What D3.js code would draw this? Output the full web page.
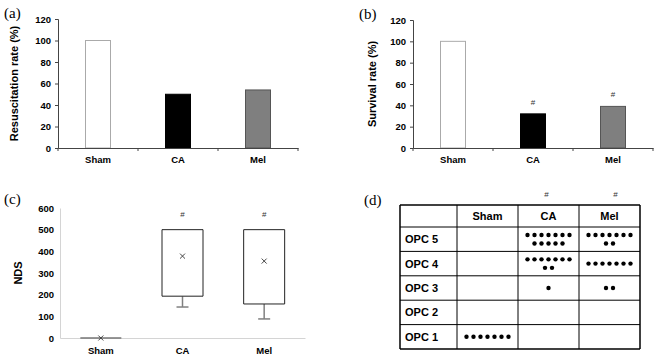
<!DOCTYPE html>
<html>
<head>
<meta charset="utf-8">
<script src="https://cdn.jsdelivr.net/npm/d3@7"></script>
<style>
  body { margin: 0; background: #fff; }
  svg { display: block; font-family: "Liberation Sans", Arial, sans-serif; }
  .tick text { font-family: "Liberation Sans", Arial, sans-serif; font-weight: bold; font-size: 9.5px; fill: #000; }
</style>
</head>
<body>
<svg id="chart" width="657" height="358"></svg>
<script>
// data
const groups = ["Sham", "CA", "Mel"];
const resuscitation = [100, 50, 54];
const survival = [100, 32, 39];
const survivalSig = [false, true, true];
const rateTicks = [0, 20, 40, 60, 80, 100, 120];

// NDS box plot (box = q1..q3, whisker down to min, x = mean)
const ndsQ1 = [0, 193, 157];
const ndsQ3 = [0, 500, 500];
const ndsMin = [0, 143, 88];
const ndsMean = [0, 378, 355];
const ndsSig = [false, true, true];
const ndsTicks = [0, 100, 200, 300, 400, 500, 600];

// OPC table (dot counts per level)
const opcLevels = ["OPC 5", "OPC 4", "OPC 3", "OPC 2", "OPC 1"];
const opcSham = [0, 0, 0, 0, 7];
const opcCA = [12, 9, 1, 0, 0];
const opcMel = [9, 7, 2, 0, 0];
const opcSig = [false, true, true];

const barFill = ["#fff", "#000", "#7f7f7f"];
const barStroke = ["#aaa", "#000", "#555"];

const svg = d3.select("#chart");

function panelLabel(txt, x, y) {
  svg.append("text")
    .attr("x", x).attr("y", y)
    .style("font-family", "'Liberation Serif', 'Times New Roman', serif")
    .style("font-size", "15px")
    .text(txt);
}

// bar panels (a) and (b)
function barPanel(opt) {
  const x = d3.scaleBand().domain(groups).range(opt.xr);
  const y = d3.scaleLinear().domain([0, 120]).range(opt.yr);
  const g = svg.append("g");
  const bw = 25;
  const idx = groups.map((d, i) => i);

  g.selectAll("rect.bar")
    .data(idx)
    .enter()
    .append("rect")
    .attr("class", "bar")
    .attr("x", i => x(groups[i]) + x.bandwidth() / 2 - bw / 2)
    .attr("y", i => y(opt.values[i]))
    .attr("width", bw)
    .attr("height", i => y(0) - y(opt.values[i]))
    .attr("fill", i => barFill[i])
    .attr("stroke", i => barStroke[i])
    .attr("stroke-width", 1);

  if (opt.sig) {
    g.selectAll("text.sig")
      .data(idx.filter(i => opt.sig[i]))
      .enter()
      .append("text")
      .attr("class", "sig")
      .attr("x", i => x(groups[i]) + x.bandwidth() / 2)
      .attr("y", i => y(opt.values[i]) - 9)
      .attr("text-anchor", "middle")
      .style("font-size", "8px")
      .style("fill", "#333")
      .text("#");
  }

  const yAxis = d3.axisLeft(y).tickValues(rateTicks).tickSize(3).tickPadding(4);
  const ya = g.append("g").attr("transform", "translate(" + opt.xr[0] + ",0)").call(yAxis);
  ya.select(".domain").attr("stroke", "#444");
  ya.selectAll(".tick line").attr("stroke", "#444");

  const xAxis = d3.axisBottom(x).tickSize(0).tickPadding(8);
  const xa = g.append("g").attr("transform", "translate(0," + opt.yr[0] + ")").call(xAxis);
  xa.select(".domain").attr("stroke", "#444");
  // separator ticks between categories
  xa.selectAll("line.sep")
    .data([0, 1, 2, 3])
    .enter()
    .append("line")
    .attr("class", "sep")
    .attr("x1", d => opt.xr[0] + d * x.step())
    .attr("x2", d => opt.xr[0] + d * x.step())
    .attr("y1", 0).attr("y2", 3)
    .attr("stroke", "#444");

  g.append("text")
    .attr("transform", "translate(" + opt.titleX + "," + ((opt.yr[0] + opt.yr[1]) / 2) + ") rotate(-90)")
    .attr("text-anchor", "middle")
    .style("font-weight", "bold")
    .style("font-size", "11px")
    .text(opt.title);
}

barPanel({ values: resuscitation, xr: [58, 298], yr: [148, 19], title: "Resuscitation rate (%)", titleX: 18 });
barPanel({ values: survival, sig: survivalSig, xr: [413, 653], yr: [148, 20], title: "Survival rate (%)", titleX: 376 });

panelLabel("(a)", 4, 18);
panelLabel("(b)", 359, 19);

// panel (c) box plot
(function () {
  const x = d3.scaleBand().domain(groups).range([60, 305]);
  const y = d3.scaleLinear().domain([0, 600]).range([338, 208]);
  const g = svg.append("g");
  const bw = 41;
  const idx = groups.map((d, i) => i);
  const cx = i => x(groups[i]) + x.bandwidth() / 2;

  const yAxis = d3.axisLeft(y).tickValues(ndsTicks).tickSize(0).tickPadding(6);
  const ya = g.append("g").attr("transform", "translate(60,0)").call(yAxis);
  ya.select(".domain").attr("stroke", "#d4d4d4");

  const xAxis = d3.axisBottom(x).tickSize(0).tickPadding(9);
  const xa = g.append("g").attr("transform", "translate(0,338)").call(xAxis);
  xa.select(".domain").attr("stroke", "#d4d4d4");

  // whiskers
  g.selectAll("line.wh")
    .data(idx.filter(i => ndsQ1[i] > ndsMin[i]))
    .enter()
    .append("line")
    .attr("x1", cx).attr("x2", cx)
    .attr("y1", i => y(ndsQ1[i])).attr("y2", i => y(ndsMin[i]))
    .attr("stroke", "#808080").attr("stroke-width", 1.5);
  g.selectAll("line.cap")
    .data(idx.filter(i => ndsQ1[i] > ndsMin[i]))
    .enter()
    .append("line")
    .attr("x1", i => cx(i) - 6).attr("x2", i => cx(i) + 6)
    .attr("y1", i => y(ndsMin[i])).attr("y2", i => y(ndsMin[i]))
    .attr("stroke", "#808080").attr("stroke-width", 1.5);

  // boxes (drawn as closed paths so a zero-height box still shows as a line)
  g.selectAll("path.box")
    .data(idx)
    .enter()
    .append("path")
    .attr("d", i => {
      const x0 = cx(i) - bw / 2, x1 = cx(i) + bw / 2;
      const y0 = y(ndsQ3[i]), y1 = y(ndsQ1[i]);
      return "M" + x0 + "," + y0 + "H" + x1 + "V" + y1 + "H" + x0 + "Z";
    })
    .attr("fill", "#fff")
    .attr("stroke", i => ndsQ3[i] === ndsQ1[i] ? "#777" : "#222")
    .attr("stroke-width", i => ndsQ3[i] === ndsQ1[i] ? 1.5 : 1);

  // mean markers
  g.selectAll("path.mean")
    .data(idx)
    .enter()
    .append("path")
    .attr("d", i => {
      const px = cx(i), py = y(ndsMean[i]), s = 2.5;
      return "M" + (px - s) + "," + (py - s) + "L" + (px + s) + "," + (py + s) +
        "M" + (px - s) + "," + (py + s) + "L" + (px + s) + "," + (py - s);
    })
    .attr("stroke", "#333").attr("stroke-width", 0.9);

  g.selectAll("text.sig")
    .data(idx.filter(i => ndsSig[i]))
    .enter()
    .append("text")
    .attr("x", cx)
    .attr("y", i => y(ndsQ3[i]) - 13)
    .attr("text-anchor", "middle")
    .style("font-size", "8px")
    .style("fill", "#333")
    .text("#");

  g.append("text")
    .attr("transform", "translate(22,273) rotate(-90)")
    .attr("text-anchor", "middle")
    .style("font-weight", "bold")
    .style("font-size", "11px")
    .text("NDS");
})();

panelLabel("(c)", 4, 204);

// panel (d) table
(function () {
  const left = 400;
  const cols = d3.scaleBand().domain(groups).range([457, 640]);
  const top = 205, headH = 22;
  const rows = d3.scaleBand().domain(opcLevels).range([227, 349]);
  const g = svg.append("g");
  const counts = [opcSham, opcCA, opcMel];

  // grid
  const vx = [left, ...groups.map(gr => cols(gr)), cols.range()[1]];
  const hy = [top, ...opcLevels.map(l => rows(l)), rows.range()[1]];
  g.selectAll("line.v").data(vx).enter().append("line")
    .attr("x1", d => d).attr("x2", d => d).attr("y1", top).attr("y2", hy[hy.length - 1])
    .attr("stroke", "#000").attr("stroke-width", (d, i) => (i === 0 || i === vx.length - 1) ? 1.5 : 1);
  g.selectAll("line.h").data(hy).enter().append("line")
    .attr("x1", left).attr("x2", vx[vx.length - 1]).attr("y1", d => d).attr("y2", d => d)
    .attr("stroke", "#000").attr("stroke-width", (d, i) => (i === 0 || i === hy.length - 1) ? 1.5 : 1);

  // header
  g.selectAll("text.head").data(groups).enter().append("text")
    .attr("x", d => cols(d) + cols.bandwidth() / 2)
    .attr("y", top + headH / 2 + 4)
    .attr("text-anchor", "middle")
    .style("font-weight", "bold").style("font-size", "11px")
    .text(d => d);

  // row labels
  g.selectAll("text.row").data(opcLevels).enter().append("text")
    .attr("x", left + 5)
    .attr("y", d => rows(d) + rows.bandwidth() / 2 + 4)
    .style("font-weight", "bold").style("font-size", "11px")
    .text(d => d);

  // dots
  const perLine = 7, sp = 7, lineGap = 8.5, r = 2.2;
  const dots = [];
  groups.forEach((gr, gi) => {
    opcLevels.forEach((lv, li) => {
      const n = counts[gi][li];
      const nl = Math.ceil(n / perLine);
      for (let k = 0; k < n; k++) {
        const line = Math.floor(k / perLine);
        const inLine = Math.min(perLine, n - line * perLine);
        const pos = k % perLine;
        dots.push({
          x: cols(gr) + cols.bandwidth() / 2 + (pos - (inLine - 1) / 2) * sp,
          y: rows(lv) + rows.bandwidth() / 2 + (line - (nl - 1) / 2) * lineGap
        });
      }
    });
  });
  g.selectAll("circle").data(dots).enter().append("circle")
    .attr("cx", d => d.x).attr("cy", d => d.y).attr("r", r).attr("fill", "#000");

  // significance marks above columns
  g.selectAll("text.sig").data(groups.filter((d, i) => opcSig[i])).enter().append("text")
    .attr("x", d => cols(d) + cols.bandwidth() / 2 + (d === "Mel" ? 6 : -2))
    .attr("y", 197)
    .attr("text-anchor", "middle")
    .style("font-size", "8px").style("fill", "#333")
    .text("#");
})();

panelLabel("(d)", 364, 205);
</script>
</body>
</html>
